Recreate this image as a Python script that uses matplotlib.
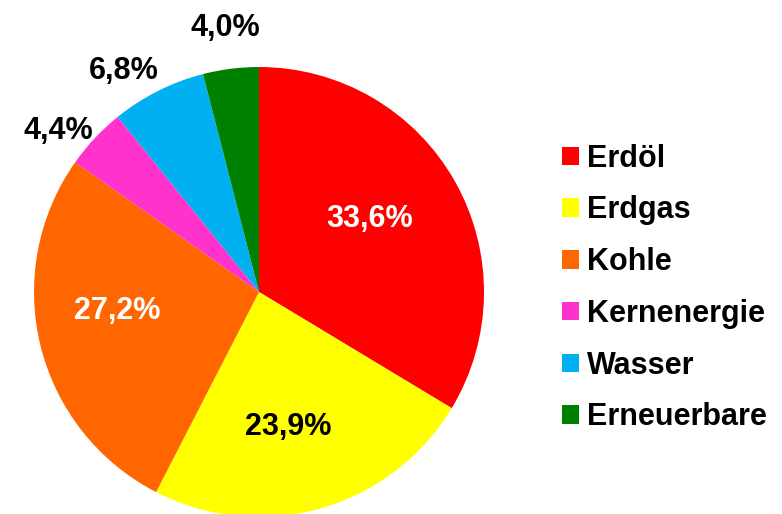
import numpy as np
import matplotlib
matplotlib.use("Agg")
from matplotlib import pyplot as plt

# Energy mix shares (percent)
categories = ["Erdöl", "Erdgas", "Kohle", "Kernenergie", "Wasser", "Erneuerbare"]
shares = [33.6, 23.9, 27.2, 4.4, 6.8, 4.0]
label_texts = ["33,6%", "23,9%", "27,2%", "4,4%", "6,8%", "4,0%"]
colors = ["#FF0000", "#FFFF00", "#FF6600", "#FF33CC", "#00B0F0", "#008000"]
label_colors = ["white", "black", "white", "black", "black", "black"]
outside = [False, False, False, True, True, True]
# small hand nudges (pixels) like the ones made in the original chart tool
nudges = [(-7, 10), (-8, -2), (-11, 16), (-9, -16), (-17, -11), (-1, 6)]

plt.rcParams["font.family"] = ["Liberation Sans", "DejaVu Sans"]

W, H = 782, 514
fig = plt.figure(figsize=(W / 100, H / 100), dpi=100)

# pie centre (259, 292) px, radius 225 px
cx, cy, r = 259, 292, 225
ax = fig.add_axes([(cx - r) / W, (H - cy - r) / H, 2 * r / W, 2 * r / H])

wedges, _ = ax.pie(shares, colors=colors, startangle=90, counterclock=False,
                   radius=1, wedgeprops={"linewidth": 0})
# pie() resets the limits to +-1.25, put them back
ax.set_xlim(-1, 1)
ax.set_ylim(-1, 1)
ax.set_aspect("equal")
ax.axis("off")
for w in wedges:
    w.set_clip_on(False)

for w, txt, col, out, (nx, ny) in zip(wedges, label_texts, label_colors, outside, nudges):
    ang = np.deg2rad((w.theta1 + w.theta2) / 2)
    d = 1.17 if out else 0.6
    # baseline sits half a cap height below the wanted centre
    ax.annotate(txt, (d * np.cos(ang), d * np.sin(ang)), xytext=(nx, ny - 11),
                textcoords="offset pixels", color=col, fontsize=22,
                fontweight="bold", ha="center", va="baseline",
                annotation_clip=False)

fig.legend(wedges, categories, loc="center left",
           bbox_to_anchor=(562 / W, 1 - 288 / H), frameon=False,
           prop={"size": 22, "weight": "bold"}, handlelength=0.55,
           handleheight=0.55, handletextpad=0.26, labelspacing=0.71,
           borderpad=0, borderaxespad=0)

fig.savefig("out.png", dpi=100)
